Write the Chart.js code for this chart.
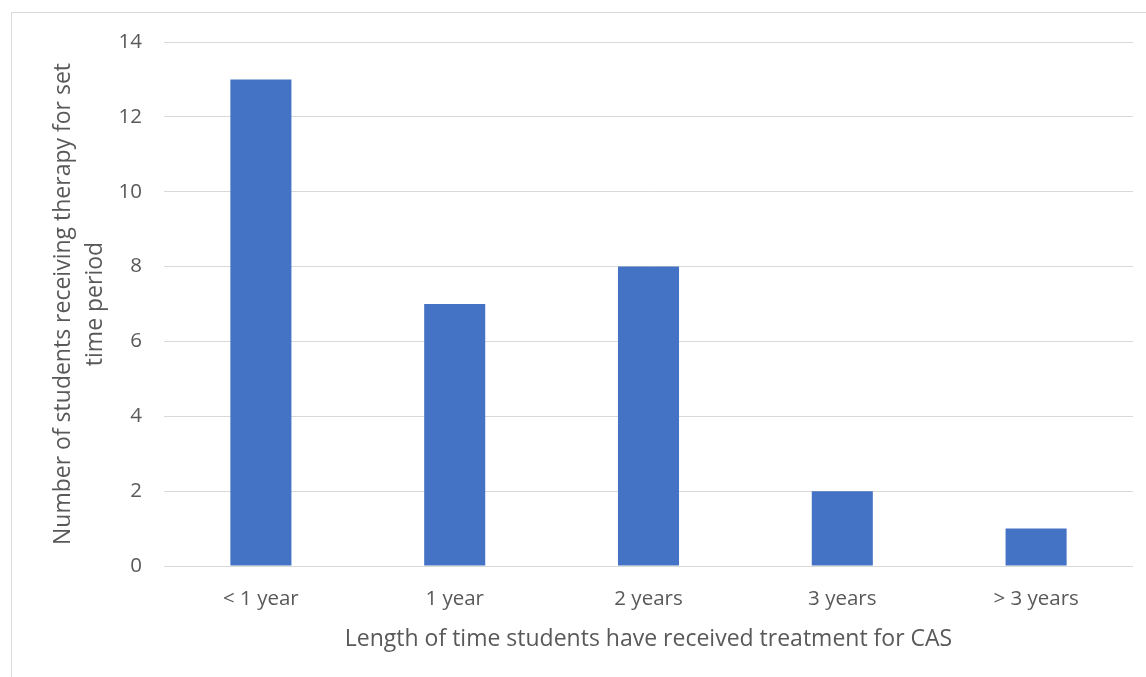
<!DOCTYPE html>
<html>
<head>
<meta charset="utf-8">
<script src="https://cdn.jsdelivr.net/npm/chart.js"></script>
<style>
  html, body { margin: 0; padding: 0; background: #fff; }
  #box { position: relative; width: 1146px; height: 677px; overflow: hidden; }
  #frame { position: absolute; left: 11px; top: 12px; width: 1200px; height: 700px; border-left: 1px solid #d9d9d9; border-top: 1px solid #d9d9d9; }
  #myChart { position: absolute; left: 0; top: 0; }
</style>
</head>
<body>
<div id="box">
  <div id="frame"></div>
  <canvas id="myChart" width="1146" height="677"></canvas>
</div>
<script>
let categories = ['< 1 year', '1 year', '2 years', '3 years', '> 3 years'];
let studentCounts = [13, 7, 8, 2, 1];
let yTicks = [0, 2, 4, 6, 8, 10, 12, 14];

let textColor = '#595959';
let fontFamily = "'Open Sans', 'Liberation Sans', sans-serif";

function showChart() {
    let canvas = document.getElementById('myChart');
    let ctx = canvas.getContext('2d');
    new Chart(ctx, {
        type: 'bar',
        data: {
            labels: categories,
            datasets: [{
                data: studentCounts,
                backgroundColor: '#4472C4',
                borderWidth: 0,
                categoryPercentage: 1,
                barPercentage: 0.315
            }]
        },
        options: {
            responsive: false,
            animation: false,
            layout: { padding: { left: 40, right: 13, top: 42, bottom: 20 } },
            plugins: { legend: { display: false }, tooltip: { enabled: false } },
            scales: {
                x: {
                    grid: { display: false },
                    border: { display: false },
                    ticks: { color: textColor, font: { family: fontFamily, size: 20.5 }, padding: 13 },
                    title: {
                        display: true,
                        text: 'Length of time students have received treatment for CAS',
                        color: textColor,
                        font: { family: fontFamily, size: 23 },
                        padding: { top: 2 }
                    },
                    afterFit: (scale) => { scale.height = 91; }
                },
                y: {
                    min: 0,
                    max: 14,
                    afterBuildTicks: (scale) => { scale.ticks = yTicks.map(v => ({ value: v })); },
                    grid: { color: '#d9d9d9', lineWidth: 1, drawTicks: false },
                    border: { display: false },
                    ticks: { color: textColor, font: { family: fontFamily, size: 20.5 }, padding: 22 },
                    title: {
                        display: true,
                        text: ['Number of students receiving therapy for set', 'time period'],
                        color: textColor,
                        font: { family: fontFamily, size: 23, lineHeight: 1.4 },
                        padding: { top: 7, bottom: 0 }
                    },
                    afterFit: (scale) => { scale.width = 124; }
                }
            }
        }
    });
}

showChart();
</script>
</body>
</html>
